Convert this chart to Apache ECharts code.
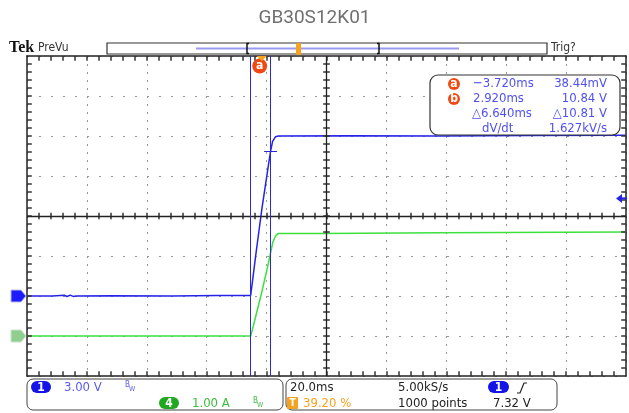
<!DOCTYPE html>
<html>
<head>
<meta charset="utf-8">
<title>GB30S12K01</title>
<script src="https://cdn.jsdelivr.net/npm/echarts@6/dist/echarts.min.js"></script>
<style>
html, body { margin: 0; padding: 0; background: #fff; }
#scope { width: 629px; height: 413px; }
</style>
</head>
<body>
<div id="scope"></div>
<script>
// time in ms (0 = trigger), ch1 in volts, ch4 in amps
var blueTime = [-78.4, -70, -66, -65, -64, -63, -62, -50, -30, -15, -3.72, -3, -2, -1, 0, 1, 2, 2.92, 3.6, 4.6, 5.5, 30, 60, 90, 121.6];
var blueVolt = [0.0, 0.0, 0.06, -0.04, 0.07, -0.03, 0.0, 0.02, 0.0, 0.03, 0.04, 1.3, 3.1, 4.8, 6.5, 8.0, 9.5, 10.84, 11.6, 11.95, 12.0, 12.02, 12.0, 12.03, 12.05];

var greenTime = [-78.4, -40, -10, -3.7, -2, 0, 2, 3.7, 4.6, 5.4, 20, 60, 121.6];
var greenAmp = [0.0, 0.0, 0.0, 0.0, 0.5, 1.1, 1.75, 2.35, 2.5, 2.56, 2.56, 2.58, 2.6];

var cursorA = [-3.72, 0.03844];
var cursorB = [2.92, 10.84];
var trigLevel = 7.32;

// graticule: 10 x 8 divisions, 20 ms/div and 3 V/div (ch1 scale)
var tMin = -78.4, tMax = 121.6, tDiv = 20;
var vMin = -6, vMax = 18, vDiv = 3;

var readoutRows = [
  ['a', '\u22123.720ms', '38.44mV'],
  ['b', '2.920ms', '10.84 V'],
  ['', '\u25B36.640ms', '\u25B310.81 V'],
  ['', 'dV/dt', '1.627kV/s']
];

var narrow = '"Liberation Sans Narrow", "DejaVu Sans Condensed", "Liberation Sans", sans-serif';
var blueTxt = '#5050f0';

function pairs(xs, ys) {
  var out = [];
  for (var i = 0; i < xs.length; i++) out.push([xs[i], ys[i]]);
  return out;
}

// fifth-division ticks on the border and on the centre cross
function graticuleTicks() {
  var out = [];
  var tSub = tDiv / 5, vSub = vDiv / 5;
  var tMid = (tMin + tMax) / 2, vMid = (vMin + vMax) / 2;
  var tLen = vDiv * 0.12, vLen = tDiv * 0.08;
  for (var i = 1; i < 50; i++) {
    var t = tMin + i * tSub;
    out.push([{ coord: [t, vMax] }, { coord: [t, vMax - tLen] }]);
    out.push([{ coord: [t, vMin] }, { coord: [t, vMin + tLen] }]);
    out.push([{ coord: [t, vMid - tLen * 0.7] }, { coord: [t, vMid + tLen * 0.7] }]);
  }
  for (var j = 1; j < 40; j++) {
    var v = vMin + j * vSub;
    out.push([{ coord: [tMin, v] }, { coord: [tMin + vLen, v] }]);
    out.push([{ coord: [tMax, v] }, { coord: [tMax - vLen, v] }]);
    out.push([{ coord: [tMid - vLen * 0.7, v] }, { coord: [tMid + vLen * 0.7, v] }]);
  }
  return out;
}

function edgeX(pos, split) {
  return {
    type: 'value', min: tMin, max: tMax, interval: tDiv, position: pos,
    axisLine: { show: true, onZero: false, lineStyle: { color: '#222', width: 1.5 } },
    axisTick: { show: false }, axisLabel: { show: false },
    splitLine: { show: split, lineStyle: { color: '#9a9a9a', type: [2, 6], width: 1 } }
  };
}
function edgeY(min, max, step, pos, split) {
  return {
    type: 'value', min: min, max: max, interval: step, position: pos,
    axisLine: { show: true, onZero: false, lineStyle: { color: '#222', width: 1.5 } },
    axisTick: { show: false }, axisLabel: { show: false },
    splitLine: { show: split, lineStyle: { color: '#9a9a9a', type: [2, 10], width: 1 } }
  };
}

var chart = echarts.init(document.getElementById('scope'));
chart.setOption({
  animation: false,
  title: {
    text: 'GB30S12K01', left: 'center', top: 4,
    textStyle: { color: '#707070', fontSize: 19, fontWeight: 'normal', fontFamily: 'Roboto' }
  },
  grid: { left: 27, top: 56, width: 599, height: 320 },
  xAxis: [edgeX('bottom', true), edgeX('top', false)],
  yAxis: [edgeY(vMin, vMax, vDiv, 'left', true), edgeY(-1, 7, 1, 'right', false)],
  series: [
    {
      name: 'graticule', type: 'line', xAxisIndex: 0, yAxisIndex: 0,
      data: [[tMin, vMin]], showSymbol: false, z: 1, lineStyle: { opacity: 0 },
      markLine: {
        silent: true, symbol: 'none', label: { show: false },
        lineStyle: { color: '#333', width: 1.5, type: 'solid' },
        data: graticuleTicks().concat([
          [{ coord: [tMin, (vMin + vMax) / 2], lineStyle: { color: '#222', width: 1.3 } }, { coord: [tMax, (vMin + vMax) / 2] }],
          [{ coord: [(tMin + tMax) / 2, vMin], lineStyle: { color: '#222', width: 1.3 } }, { coord: [(tMin + tMax) / 2, vMax] }]
        ])
      }
    },
    {
      name: 'CH1', type: 'line', xAxisIndex: 0, yAxisIndex: 0,
      data: pairs(blueTime, blueVolt), showSymbol: false, z: 4,
      lineStyle: { color: '#2424e8', width: 1.5 },
      markLine: {
        silent: true, symbol: 'none', label: { show: false },
        lineStyle: { color: '#2a2ad0', width: 1, type: 'solid' },
        data: [
          { xAxis: cursorA[0] },
          { xAxis: cursorB[0] },
          [{ coord: [cursorB[0] - 2.15, cursorB[1]] }, { coord: [cursorB[0] + 2.15, cursorB[1]] }]
        ]
      }
    },
    {
      name: 'CH4', type: 'line', xAxisIndex: 0, yAxisIndex: 1,
      data: pairs(greenTime, greenAmp), showSymbol: false, z: 3,
      lineStyle: { color: '#3ee03e', width: 1.5 }
    }
  ]
});

function px(v) { return chart.convertToPixel({ xAxisIndex: 0 }, v); }
function py(v) { return chart.convertToPixel({ yAxisIndex: 0 }, v); }
var xA = px(cursorA[0]);
var xT = px(0);
var y1 = py(0);
var y4 = chart.convertToPixel({ yAxisIndex: 1 }, 0);
var yTrig = py(trigLevel);

function txt(s, x, y, size, color, align, extra) {
  var st = { text: s, x: x, y: y, font: (extra || '') + size + 'px ' + narrow, fill: color,
    textAlign: align || 'left', textVerticalAlign: 'middle' };
  return { type: 'text', z: 20, style: st };
}
function pill(x, y, w, h, color, label, labelColor) {
  return [
    { type: 'rect', z: 19, shape: { x: x, y: y, width: w, height: h, r: h / 2 }, style: { fill: color } },
    txt(label, x + w / 2, y + h / 2 + 0.5, 12, labelColor, 'center', 'bold ')
  ];
}
function circ(cx, cy, r, label) {
  return [
    { type: 'circle', z: 19, shape: { cx: cx, cy: cy, r: r }, style: { fill: '#f04a12' } },
    txt(label, cx, cy, 12, '#fff', 'center', 'bold ')
  ];
}

var g = [];

// top status line
g.push({ type: 'text', z: 20, style: { text: 'Tek', x: 9, y: 48, font: 'bold 16px "Liberation Serif", serif', fill: '#111', textVerticalAlign: 'middle' } });
g.push(txt('PreVu', 38, 48, 12, '#333'));
g.push(txt('Trig?', 551, 48, 12, '#333'));
g.push({ type: 'rect', z: 18, shape: { x: 107, y: 43, width: 440, height: 11 }, style: { fill: '#fff', stroke: '#333', lineWidth: 1.2 } });
g.push({ type: 'line', z: 19, shape: { x1: 196, y1: 48.5, x2: 459, y2: 48.5 }, style: { stroke: '#9a9af0', lineWidth: 2 } });
g.push({ type: 'polyline', z: 19, shape: { points: [[249, 43.5], [247, 43.5], [247, 53.5], [249, 53.5]] }, style: { stroke: '#111', lineWidth: 1.5, fill: null } });
g.push({ type: 'polyline', z: 19, shape: { points: [[377, 43.5], [379, 43.5], [379, 53.5], [377, 53.5]] }, style: { stroke: '#111', lineWidth: 1.5, fill: null } });
g.push({ type: 'rect', z: 19, shape: { x: 296, y: 43, width: 5, height: 12, r: 1.5 }, style: { fill: '#f7a21a' } });

// trigger position & cursor a marker at the top of the graticule
g.push({ type: 'polygon', z: 21, shape: { points: [[xT - 5, 56], [xT + 5, 56], [xT, 61]] }, style: { fill: '#f7a21a' } });
g = g.concat(circ(xA + 9, 66, 7.5, 'a'));

// ground markers on the left edge
function marker(y, fill, stroke, label, labelColor) {
  return [
    { type: 'polygon', z: 21, shape: { points: [[11, y - 6], [21, y - 6], [26, y], [21, y + 6], [11, y + 6]] }, style: { fill: fill, stroke: stroke, lineWidth: 1 } },
    txt(label, 17, y + 0.5, 12, labelColor, 'center', 'bold ')
  ];
}
g = g.concat(marker(y1, '#1c1cff', '#b8b8e8', '1', '#6a6aa8'));
g = g.concat(marker(y4, '#8fce8f', '#c8e4c8', '4', '#6a8a6a'));

// trigger level arrow on the right edge
g.push({ type: 'polygon', z: 21, shape: { points: [[616, yTrig], [622, yTrig - 4.5], [622, yTrig + 4.5]] }, style: { fill: '#2424e8' } });
g.push({ type: 'line', z: 21, shape: { x1: 621, y1: yTrig, x2: 627, y2: yTrig }, style: { stroke: '#2424e8', lineWidth: 2 } });

// cursor readout
g.push({ type: 'rect', z: 18, shape: { x: 430, y: 75, width: 190, height: 60, r: 8 }, style: { fill: '#fff', stroke: '#333', lineWidth: 1.2 } });
var rowY = [84, 99, 114, 129];
readoutRows.forEach(function (row, i) {
  if (row[0]) g = g.concat(circ(454, rowY[i], 6, row[0]));
  var x1 = row[0] ? 473 : (i === 3 ? 482 : 472);
  g.push(txt(row[1], x1, rowY[i], 13, blueTxt));
  g.push(txt(row[2], 607, rowY[i], 13, blueTxt, 'right'));
});

// bottom channel boxes
g.push({ type: 'rect', z: 18, shape: { x: 27, y: 379, width: 256, height: 31, r: 6 }, style: { fill: '#fff', stroke: '#444', lineWidth: 1 } });
g.push({ type: 'rect', z: 18, shape: { x: 286, y: 379, width: 271, height: 31, r: 6 }, style: { fill: '#fff', stroke: '#444', lineWidth: 1 } });
g = g.concat(pill(31, 381, 20, 12, '#1414e6', '1', '#fff'));
g.push(txt('3.00 V', 64, 387.5, 13, '#5a5af0'));
g.push(txt('B', 125, 385, 8, '#5a5af0'));
g.push(txt('W', 129, 389, 7, '#5a5af0'));
g = g.concat(pill(159, 397, 20, 12, '#21a821', '4', '#fff'));
g.push(txt('1.00 A', 192, 403.5, 13, '#3cbc3c'));
g.push(txt('B', 253, 401, 8, '#3cbc3c'));
g.push(txt('W', 257, 405, 7, '#3cbc3c'));

g.push(txt('20.0ms', 290, 387.5, 13, '#222'));
g.push({ type: 'rect', z: 19, shape: { x: 287, y: 397, width: 11, height: 12, r: 1 }, style: { fill: '#f5a21e' } });
g.push(txt('T', 292.5, 403.5, 10, '#fff', 'center', 'bold '));
g.push(txt('39.20 %', 303, 403.5, 13, '#f5a21e'));
g.push(txt('5.00kS/s', 398, 387.5, 13, '#222'));
g.push(txt('1000 points', 398, 403.5, 13, '#222'));
g = g.concat(pill(488, 381, 21, 12, '#1414e6', '1', '#fff'));
g.push({ type: 'polyline', z: 20, shape: { points: [[517, 393], [520, 393], [524, 383], [527, 383]] }, style: { stroke: '#222', lineWidth: 1.2, fill: null } });
g.push(txt('7.32 V', 493, 403.5, 13, '#222'));

chart.setOption({ graphic: g });
</script>
</body>
</html>
